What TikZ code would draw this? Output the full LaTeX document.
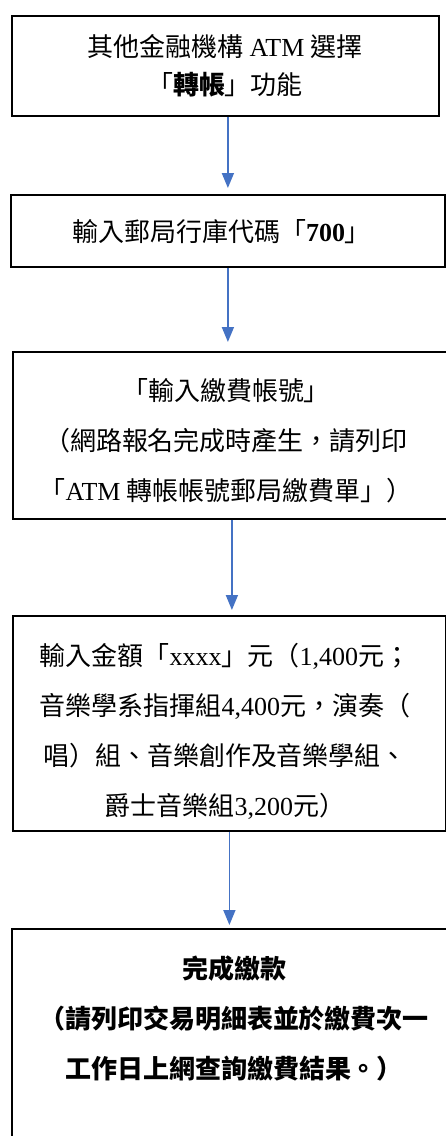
\documentclass[tikz,border=0pt]{standalone}
\usepackage{fontspec}
\setmainfont{Noto Sans CJK TC}
\newfontfamily\tnr{Liberation Serif}
\usetikzlibrary{arrows.meta}
\definecolor{arrblue}{RGB}{68,114,196}
\newcommand{\lat}[1]{{\tnr #1}}
\tikzset{
  box/.style={draw=black, line width=1.8pt, rectangle, inner sep=0pt, anchor=north west},
  txt/.style={align=center, inner sep=0pt, font=\fontsize{26}{50}\selectfont},
  arr/.style={draw=arrblue, line width=1.6pt, -{Triangle[width=12pt,length=15pt]}}
}
\begin{document}
\begin{tikzpicture}[x=1pt,y=-1pt]
\useasboundingbox (0,0) rectangle (446,1136);
\clip (0,0) rectangle (446,1136);
\fill[white] (0,0) rectangle (446,1136);
\node[box, minimum width=427pt, minimum height=100pt] (b1) at (11,15) {};
\node[box, minimum width=434pt, minimum height=72pt] (b2) at (10,194) {};
\node[box, minimum width=438pt, minimum height=167pt] (b3) at (12,351) {};
\node[box, minimum width=433pt, minimum height=215pt] (b4) at (12,615) {};
\node[box, minimum width=440pt, minimum height=230pt] (b5) at (11,928) {};
\node[txt, font=\fontsize{26}{38}\selectfont] (t1) at (225,66) {其他金融機構 \lat{ATM} 選擇\\「\textbf{轉帳}」功能};
\node[txt] (t2) at (221.5,232) {輸入郵局行庫代碼「\lat{\textbf{700}}」};
\node[txt] (t3) at (226,441) {「輸入繳費帳號」\\（網路報名完成時產生，請列印\\「\lat{ATM} 轉帳帳號郵局繳費單」）};
\node[txt] (t4) at (225,731) {輸入金額「\lat{xxxx}」元（\lat{1,400}元；\\音樂學系指揮組\lat{4,400}元，演奏（\\唱）組、音樂創作及音樂學組、\\爵士音樂組\lat{3,200}元）};
\node[txt, font=\fontsize{26}{50}\selectfont\bfseries] (t5) at (234,1018) {完成繳款\\（請列印交易明細表並於繳費次一\\工作日上網查詢繳費結果。）};
\draw[arr, shorten >=6pt] (b1.south -| b2.north) -- (b2.north);
\draw[arr, shorten >=9pt] (b2.south) -- (b2.south |- b3.north);
\draw[arr, shorten >=5pt] (b3.south) -- (b3.south |- b4.north);
\draw[arr, shorten >=3pt] (b4.south) -- (b4.south |- b5.north);
\end{tikzpicture}
\end{document}
